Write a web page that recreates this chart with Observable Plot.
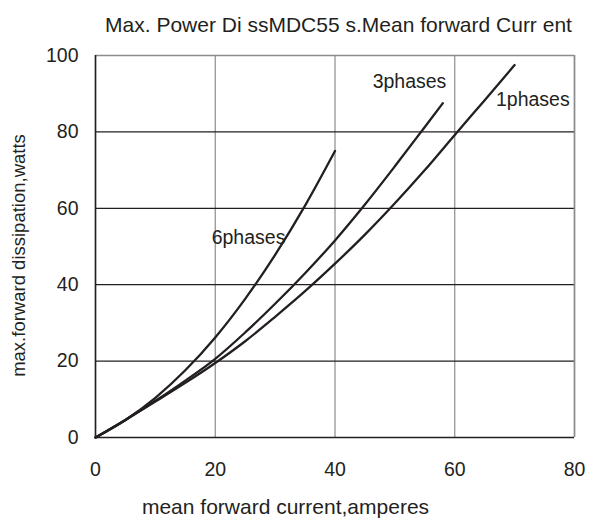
<!DOCTYPE html>
<html>
<head>
<meta charset="utf-8">
<script src="https://cdn.jsdelivr.net/npm/d3@7"></script>
<script src="https://cdn.jsdelivr.net/npm/@observablehq/plot@0.6"></script>
<style>
  html, body { margin: 0; padding: 0; background: #fff; }
  svg { font-family: "Liberation Sans", Arial, sans-serif; }
</style>
</head>
<body>
<div id="chart"></div>
<script>
const xTicks = [0, 20, 40, 60, 80];
const yTicks = [0, 20, 40, 60, 80, 100];

const phase1X = [0, 5, 10, 15, 20, 25, 30, 35, 40, 45, 50, 55, 60, 65, 70];
const phase1Y = [0, 4.6, 9.4, 14.3, 19.5, 25.2, 31.6, 38.3, 45.5, 53.1, 61.3, 70.0, 79.2, 88.3, 97.5];

const phase3X = [0, 5, 10, 15, 20, 25, 30, 35, 40, 45, 50, 55, 58];
const phase3Y = [0, 4.6, 9.6, 14.9, 20.6, 27.5, 35.0, 43.0, 51.6, 61.0, 71.0, 81.3, 87.5];

const phase6X = [0, 5, 10, 15, 20, 25, 30, 35, 40];
const phase6Y = [0, 4.6, 10.4, 17.6, 26.2, 36.3, 47.8, 60.7, 75];

const seriesNames = ["1phases", "3phases", "6phases"];
const labelX = [79.2, 58.6, 19.4];
const labelY = [88.5, 93.2, 52.4];

const titleText = "Max. Power Di ssMDC55 s.Mean forward Curr ent";
const xLabel = "mean forward current,amperes";
const yLabel = "max.forward dissipation,watts";

const ink = "#231f20";
const grey = "#8c8c8c";

function toRows(name, xs, ys) { return xs.map((x, i) => ({series: name, x, y: ys[i]})); }
const rows = [
  ...toRows(seriesNames[0], phase1X, phase1Y),
  ...toRows(seriesNames[1], phase3X, phase3Y),
  ...toRows(seriesNames[2], phase6X, phase6Y)
];
const lbl = (i) => [{s: seriesNames[i], x: labelX[i], y: labelY[i]}];

const chart = Plot.plot({
  width: 589,
  height: 523,
  marginLeft: 95,
  marginRight: 15,
  marginTop: 55,
  marginBottom: 86,
  style: {fontFamily: "'Liberation Sans', Arial, sans-serif", color: ink, background: "#fff"},
  x: {domain: [0, 80], ticks: xTicks},
  y: {domain: [0, 100], ticks: yTicks},
  marks: [
    Plot.gridX(xTicks, {stroke: grey, strokeOpacity: 1, strokeWidth: 1.2}),
    Plot.gridY(yTicks, {stroke: ink, strokeOpacity: 1, strokeWidth: 1.2}),
    Plot.ruleY([100], {stroke: grey, strokeWidth: 1.6}),
    Plot.ruleX([80], {stroke: grey, strokeWidth: 1.6}),
    Plot.ruleY([0], {stroke: ink, strokeWidth: 1.6}),
    Plot.ruleX([0], {stroke: ink, strokeWidth: 1.6}),
    Plot.axisX(xTicks, {tickSize: 0, tickPadding: 25, fontSize: 19.5, fill: ink, label: null}),
    Plot.axisY(yTicks, {tickSize: 0, tickPadding: 17, fontSize: 19.5, fill: ink, label: null}),
    Plot.line(rows, {x: "x", y: "y", z: "series", stroke: ink, strokeWidth: 2.3, curve: "monotone-x"}),
    Plot.text(lbl(0), {x: "x", y: "y", text: "s", textAnchor: "end", fontSize: 19.5, fill: ink}),
    Plot.text(lbl(1), {x: "x", y: "y", text: "s", textAnchor: "end", fontSize: 19.5, fill: ink}),
    Plot.text(lbl(2), {x: "x", y: "y", text: "s", textAnchor: "start", fontSize: 19.5, fill: ink}),
    Plot.text([titleText], {frameAnchor: "top-left", dx: 243, dy: -38, textAnchor: "middle", fontSize: 21, fill: ink}),
    Plot.text([xLabel], {frameAnchor: "bottom-left", dx: 190, dy: 76, textAnchor: "middle", fontSize: 21, fill: ink}),
    Plot.text([yLabel], {frameAnchor: "top-left", dx: -84, dy: 200, rotate: -90, textAnchor: "middle", fontSize: 18.5, fill: ink})
  ]
});
document.getElementById("chart").appendChild(chart);
</script>
</body>
</html>
